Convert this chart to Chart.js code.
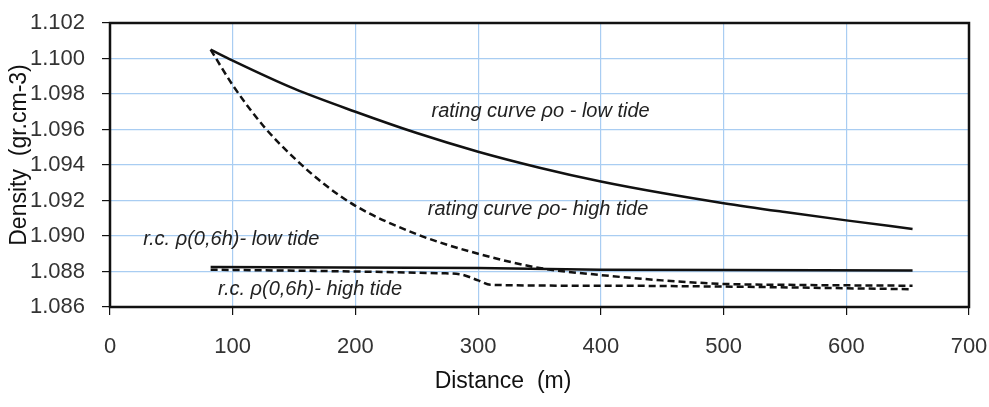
<!DOCTYPE html>
<html>
<head>
<meta charset="utf-8">
<script src="https://cdn.jsdelivr.net/npm/chart.js"></script>
<style>
  html, body { margin: 0; padding: 0; background: #fff; }
  #wrap { width: 989px; height: 407px; }
</style>
</head>
<body>
<div id="wrap"><canvas id="densityChart" width="989" height="407"></canvas></div>
<script>
// distances (m) and densities (gr.cm-3)
const lowTideX = [82, 100, 150, 200, 250, 300, 350, 400, 450, 500, 550, 600, 654];
const lowTideY = [1.1005, 1.09988, 1.0983, 1.0970, 1.0958, 1.09475, 1.09385, 1.09307, 1.09242, 1.09185, 1.09135, 1.09088, 1.0904];

const highTideX = [82, 100, 125, 150, 175, 200, 250, 300, 350, 400, 450, 500, 550, 600, 654];
const highTideY = [1.1005, 1.0985, 1.0962, 1.0944, 1.0929, 1.0917, 1.0901, 1.0890, 1.0882, 1.0878, 1.0875, 1.0873, 1.08725, 1.08722, 1.0872];

const rcLowX = [82, 300, 400, 500, 654];
const rcLowY = [1.08826, 1.0882, 1.0881, 1.08808, 1.08805];

const rcHighX = [82, 200, 270, 285, 300, 310, 400, 500, 654];
const rcHighY = [1.0881, 1.0880, 1.0879, 1.08785, 1.0875, 1.08725, 1.0872, 1.08715, 1.0870];

const xTicks = [0, 100, 200, 300, 400, 500, 600, 700];
const yTicks = [1.086, 1.088, 1.090, 1.092, 1.094, 1.096, 1.098, 1.100, 1.102];

// curve labels, anchored at (distance, density)
const curveLabels = [
  { text: 'rating curve \u03c1o - low tide', x: 262, y: 1.0970 },
  { text: 'rating curve \u03c1o- high tide', x: 259, y: 1.0915 },
  { text: 'r.c. \u03c1(0,6h)- low tide', x: 27, y: 1.0898 },
  { text: 'r.c. \u03c1(0,6h)- high tide', x: 88, y: 1.0870 }
];

const FONT = "'Liberation Sans', Arial, sans-serif";

function toPoints(xs, ys) {
  return xs.map((x, i) => ({ x: x, y: ys[i] }));
}

const frameAndText = {
  id: 'frameAndText',
  afterDatasetsDraw(chart) {
    const ctx = chart.ctx;
    const a = chart.chartArea;
    const xs = chart.scales.x, ys = chart.scales.y;
    ctx.save();
    // plot frame
    ctx.strokeStyle = '#111';
    ctx.lineWidth = 2.5;
    ctx.strokeRect(a.left, a.top, a.right - a.left, a.bottom - a.top);

    // curve labels
    ctx.fillStyle = '#222';
    ctx.font = 'italic 20px ' + FONT;
    ctx.textBaseline = 'middle';
    ctx.textAlign = 'left';
    curveLabels.forEach(l => {
      ctx.fillText(l.text, xs.getPixelForValue(l.x), ys.getPixelForValue(l.y));
    });

    // axis titles
    ctx.fillStyle = '#111';
    ctx.font = '23px ' + FONT;
    ctx.textAlign = 'center';
    ctx.fillText('Distance  (m)', 503, 382);
    ctx.translate(20, 155);
    ctx.rotate(-Math.PI / 2);
    ctx.fillText('Density  (gr.cm-3)', 0, 0);
    ctx.restore();
  }
};

new Chart(document.getElementById('densityChart'), {
  type: 'scatter',
  data: {
    datasets: [
      {
        label: 'rating curve low tide',
        data: toPoints(lowTideX, lowTideY),
        showLine: true, borderColor: '#111', borderWidth: 2.5,
        pointRadius: 0, cubicInterpolationMode: 'monotone'
      },
      {
        label: 'rating curve high tide',
        data: toPoints(highTideX, highTideY),
        showLine: true, borderColor: '#111', borderWidth: 2.5, borderDash: [7, 4],
        pointRadius: 0, cubicInterpolationMode: 'monotone'
      },
      {
        label: 'r.c. low tide',
        data: toPoints(rcLowX, rcLowY),
        showLine: true, borderColor: '#111', borderWidth: 2.5,
        pointRadius: 0, tension: 0
      },
      {
        label: 'r.c. high tide',
        data: toPoints(rcHighX, rcHighY),
        showLine: true, borderColor: '#111', borderWidth: 2.5, borderDash: [7, 4],
        pointRadius: 0, cubicInterpolationMode: 'monotone'
      }
    ]
  },
  options: {
    responsive: false,
    animation: false,
    layout: { padding: { top: 23, right: 20, left: 0, bottom: 0 } },
    plugins: { legend: { display: false }, tooltip: { enabled: false } },
    scales: {
      x: {
        type: 'linear', min: 0, max: 700,
        afterBuildTicks: s => { s.ticks = xTicks.map(v => ({ value: v })); },
        afterFit: s => { s.height = 100; s.paddingLeft = 0; s.paddingRight = 0; },
        grid: { color: '#a9cdf2', lineWidth: 1.2, tickColor: '#111', tickLength: 8, drawTicks: true },
        border: { display: false },
        ticks: { color: '#333', font: { family: FONT, size: 22 }, padding: 19, maxRotation: 0 }
      },
      y: {
        type: 'linear', min: 1.086, max: 1.102,
        afterBuildTicks: s => { s.ticks = yTicks.map(v => ({ value: v })); },
        afterFit: s => { s.width = 110; s.paddingTop = 0; s.paddingBottom = 0; },
        grid: { color: '#a9cdf2', lineWidth: 1.2, tickColor: '#111', tickLength: 8, drawTicks: true },
        border: { display: false },
        ticks: { color: '#333', font: { family: FONT, size: 22 }, padding: 17, callback: v => v.toFixed(3) }
      }
    }
  },
  plugins: [frameAndText]
});
</script>
</body>
</html>
